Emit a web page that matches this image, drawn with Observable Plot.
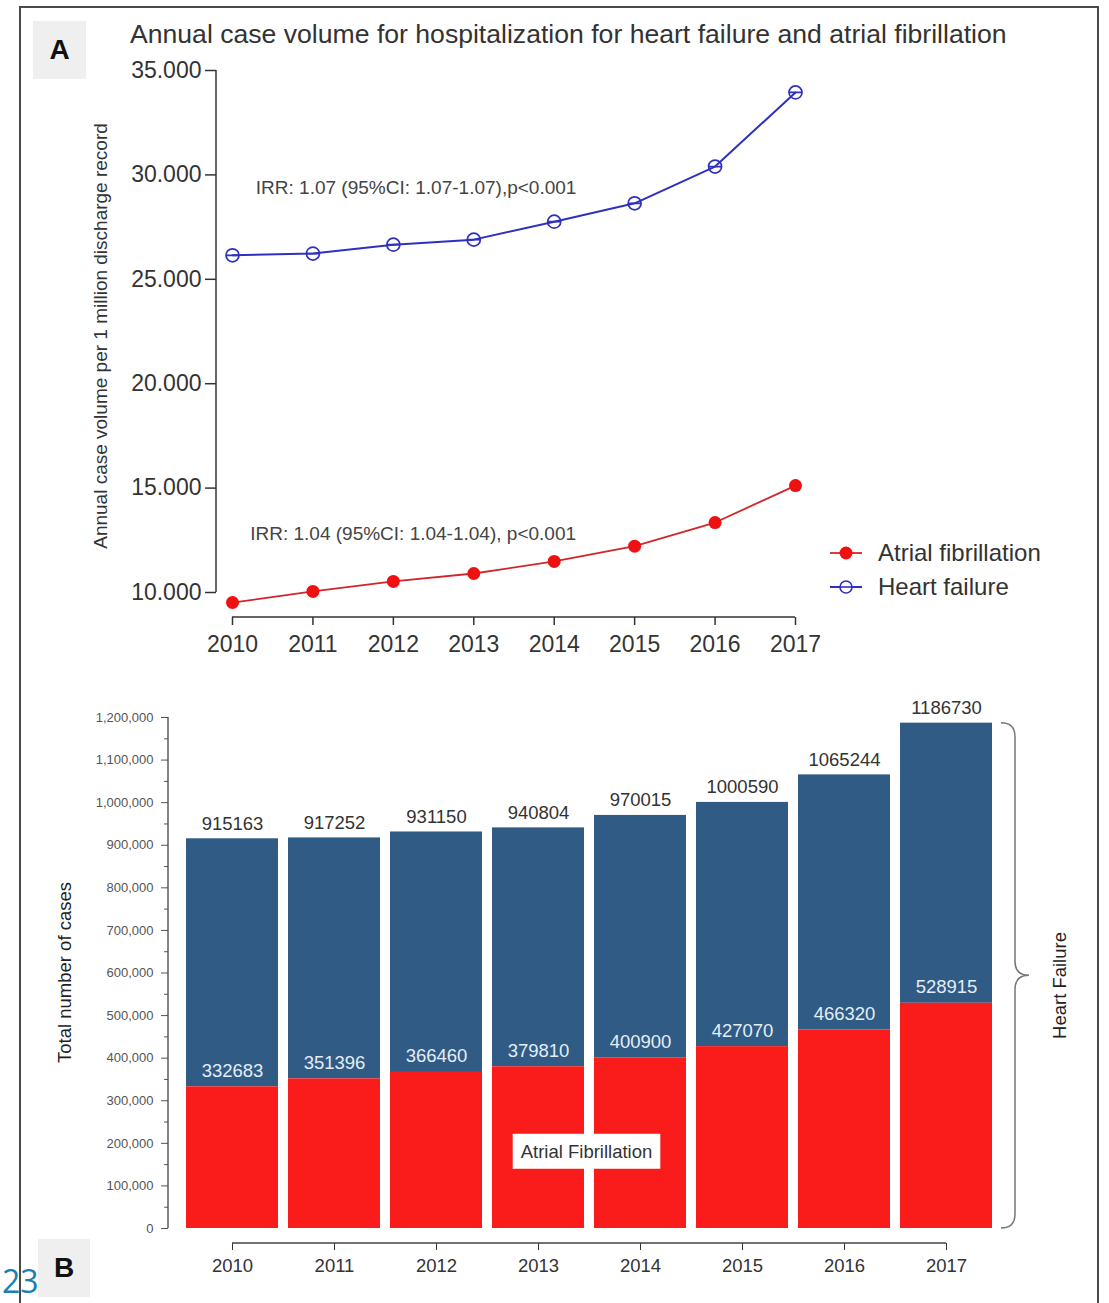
<!DOCTYPE html>
<html><head><meta charset="utf-8">
<script src="https://cdn.jsdelivr.net/npm/d3@7"></script>
<script src="https://cdn.jsdelivr.net/npm/@observablehq/plot@0.6"></script>
<style>
body{margin:0;background:#fff;font-family:"Liberation Sans",Arial,sans-serif;}
#page{position:relative;width:1109px;height:1303px;overflow:hidden;background:#fff;}
#page svg{position:absolute;left:0;}
.panel{position:absolute;background:#efefef;font-weight:bold;font-size:28px;color:#111;display:flex;align-items:center;justify-content:center;z-index:3;}
#border{position:absolute;left:19px;top:6px;width:1076px;height:1320px;border:2.5px solid #4a4a4a;border-bottom:none;z-index:4;pointer-events:none;}
#titleA{position:absolute;left:130px;top:19px;font-size:26.6px;color:#333;white-space:nowrap;z-index:2;}
#legend{position:absolute;left:828px;top:536px;font-size:24px;color:#333;line-height:34px;z-index:2;}
#legend div{display:flex;align-items:center;height:34px;}
#legend svg{position:static;margin-right:14px;}
#pagenum{position:absolute;left:2px;top:1265px;font-size:32px;line-height:32px;color:#1b80b0;z-index:5;font-family:"Open Sans",sans-serif;}
</style></head><body><div id="page">
<div id="border"></div>
<div class="panel" style="left:33px;top:21px;width:53px;height:58px;">A</div>
<div class="panel" style="left:38px;top:1239px;width:52px;height:58px;">B</div>
<div id="pagenum">23</div>
<div id="titleA">Annual case volume for hospitalization for heart failure and atrial fibrillation</div>
<div id="legend">
  <div><svg width="36" height="20"><line x1="2" x2="34" y1="10" y2="10" stroke="#d0262a" stroke-width="1.8"/><circle cx="18" cy="10" r="6.5" fill="#ee1111"/></svg><span>Atrial fibrillation</span></div>
  <div><svg width="36" height="20"><line x1="2" x2="34" y1="10" y2="10" stroke="#3030c0" stroke-width="2"/><circle cx="18" cy="10" r="6" fill="#fff" stroke="#3030c0" stroke-width="1.6"/><line x1="12" x2="24" y1="10" y2="10" stroke="#3030c0" stroke-width="1.6"/></svg><span>Heart failure</span></div>
</div>
</div>
<script>
// ---------- data ----------
const years = [2010, 2011, 2012, 2013, 2014, 2015, 2016, 2017];
const hfRate = [26150, 26230, 26660, 26900, 27760, 28640, 30400, 33950];
const afRate = [9520, 10050, 10530, 10910, 11490, 12220, 13350, 15120];
const rateTicks = [10000, 15000, 20000, 25000, 30000, 35000];
const irrText = ["IRR: 1.07 (95%CI: 1.07-1.07),p<0.001", "IRR: 1.04 (95%CI: 1.04-1.04), p<0.001"];
const irrX = [2010.29, 2010.22];
const irrY = [29380, 12830];
const yLabelA = "Annual case volume per 1 million discharge record";

const totalCases = [915163, 917252, 931150, 940804, 970015, 1000590, 1065244, 1186730];
const afCases = [332683, 351396, 366460, 379810, 400900, 427070, 466320, 528915];
const caseTicks = [0, 100000, 200000, 300000, 400000, 500000, 600000, 700000, 800000, 900000, 1000000, 1100000, 1200000];
const caseMinorTicks = [50000, 150000, 250000, 350000, 450000, 550000, 650000, 750000, 850000, 950000, 1050000, 1150000];
const afBoxLabel = [{label: "Atrial Fibrillation", y: 180000}];
const yLabelB = "Total number of cases";
const braceLabel = "Heart Failure";

// ---------- styles ----------
const blue = "#3030c0", redLine = "#d0262a", redDot = "#ee1111";
const barBlue = "#305b84", barRed = "#fa1b1b";
const font = "Liberation Sans, Arial, sans-serif";
const page = document.getElementById("page");
const fmtDot = d3.formatLocale({decimal: ",", thousands: ".", grouping: [3], currency: ["", ""]}).format(",");

const circleMinus = {draw(ctx, size) {
  const r = Math.sqrt(size / Math.PI);
  ctx.moveTo(r, 0); ctx.arc(0, 0, r, 0, 2 * Math.PI);
  ctx.moveTo(-r, 0); ctx.lineTo(r, 0);
}};

// ---------- chart A ----------
const A = {width: 1109, height: 670, ml: 216, mr: 314, mt: 70, mb: 53, insL: 16, insB: 25};
const rateRows = years.map((y, i) => ({year: y, hf: hfRate[i], af: afRate[i]}));
const irrRows = irrText.map((t, i) => ({t, x: irrX[i], y: irrY[i]}));
const plotA = Plot.plot({
  width: A.width, height: A.height,
  marginLeft: A.ml, marginRight: A.mr, marginTop: A.mt, marginBottom: A.mb,
  style: {fontFamily: font, background: "transparent", overflow: "visible"},
  x: {domain: [2010, 2017], insetLeft: A.insL},
  y: {domain: [10000, 35000], insetBottom: A.insB},
  marks: [
    Plot.axisY({ticks: rateTicks, tickFormat: fmtDot, tickSize: 11, tickPadding: 4, fontSize: 23, color: "#333", strokeWidth: 1.5, label: null}),
    Plot.axisX({ticks: years, tickFormat: d => String(d), tickSize: 8, tickPadding: 10, fontSize: 23, color: "#333", strokeWidth: 1.5, label: null}),
    Plot.text([yLabelA], {frameAnchor: "left", textAnchor: "middle", rotate: -90, dx: -116, dy: -8, fontSize: 19, fill: "#333"}),
    Plot.line(rateRows, {x: "year", y: "hf", stroke: blue, strokeWidth: 2}),
    Plot.dot(rateRows, {x: "year", y: "hf", r: 6.5, symbol: circleMinus, stroke: blue, strokeWidth: 1.7, fill: "none"}),
    Plot.line(rateRows, {x: "year", y: "af", stroke: redLine, strokeWidth: 1.8}),
    Plot.dot(rateRows, {x: "year", y: "af", r: 6.5, fill: redDot}),
    Plot.text(irrRows, {x: "x", y: "y", text: "t", textAnchor: "start", fontSize: 19, fill: "#444"})
  ]
});
plotA.style.top = "0px";
page.appendChild(plotA);
{
  const xs = plotA.scale("x"), ys = plotA.scale("y");
  const g = d3.select(plotA).append("g").attr("stroke", "#333").attr("stroke-width", 1.5).attr("fill", "none");
  const yb = A.height - A.mb;
  g.append("line").attr("x1", A.ml).attr("x2", A.ml).attr("y1", ys.apply(10000)).attr("y2", ys.apply(35000));
  g.append("line").attr("x1", xs.apply(2010)).attr("x2", xs.apply(2017)).attr("y1", yb).attr("y2", yb);
}

// ---------- chart B ----------
const B = {top: 680, width: 1109, height: 620, ml: 168, mr: 105, mt: 37, mb: 57, insL: 6, insB: 15};
const caseRows = years.map((y, i) => ({year: y, total: totalCases[i], af: afCases[i]}));
const plotB = Plot.plot({
  width: B.width, height: B.height,
  marginLeft: B.ml, marginRight: B.mr, marginTop: B.mt, marginBottom: B.mb,
  style: {fontFamily: font, background: "transparent", overflow: "visible"},
  x: {type: "band", domain: years, padding: 0.1, insetLeft: B.insL},
  y: {domain: [0, 1200000], insetBottom: B.insB},
  marks: [
    Plot.barY(caseRows, {x: "year", y1: "af", y2: "total", fill: barBlue}),
    Plot.barY(caseRows, {x: "year", y1: 0, y2: "af", fill: barRed}),
    Plot.text(caseRows, {x: "year", y: "total", text: d => String(d.total), dy: -15, fontSize: 18.5, fill: "#333"}),
    Plot.text(caseRows, {x: "year", y: "af", text: d => String(d.af), dy: -16, fontSize: 18.5, fill: "#e4edf6"}),
    Plot.text(afBoxLabel, {y: "y", text: "label", frameAnchor: "middle", fontSize: 18.5, fill: "#333"}),
    Plot.axisY({ticks: caseTicks, tickFormat: d3.format(","), tickSize: 7, tickPadding: 8, fontSize: 13, color: "#555", label: null}),
    Plot.axisY({ticks: caseMinorTicks, tickFormat: () => "", tickSize: 4, color: "#555", label: null}),
    Plot.axisX({tickFormat: d => String(d), tickSize: 7, tickPadding: 8, fontSize: 18.5, color: "#333", label: null}),
    Plot.text([yLabelB], {frameAnchor: "left", textAnchor: "middle", rotate: -90, dx: -103, dy: -8, fontSize: 18.5, fill: "#222"}),
    Plot.text([braceLabel], {frameAnchor: "right", textAnchor: "middle", rotate: -90, dx: 56, dy: 5, fontSize: 18.5, fill: "#222"})
  ]
});
plotB.style.top = B.top + "px";
page.appendChild(plotB);
{
  const xs = plotB.scale("x"), ys = plotB.scale("y");
  const bw = xs.bandwidth;
  const svg = d3.select(plotB);
  const g = svg.append("g").attr("stroke", "#444").attr("stroke-width", 1.3).attr("fill", "none");
  const yb = B.height - B.mb;
  g.append("line").attr("x1", B.ml).attr("x2", B.ml).attr("y1", ys.apply(0)).attr("y2", ys.apply(1200000));
  g.append("line").attr("x1", xs.apply(years[0]) + bw / 2).attr("x2", xs.apply(years[years.length - 1]) + bw / 2).attr("y1", yb).attr("y2", yb);
  // brace spanning the 2017 bar
  const last = years.length - 1;
  const yTop = ys.apply(totalCases[last]), yBot = ys.apply(0), yMid = (yTop + yBot) / 2;
  const x0 = xs.apply(years[last]) + bw + 9, x1 = x0 + 14, x2 = x1 + 14, r = 14;
  svg.append("path").attr("fill", "none").attr("stroke", "#777").attr("stroke-width", 1.5)
    .attr("d", `M${x0},${yTop} Q${x1},${yTop} ${x1},${yTop + r} L${x1},${yMid - r} Q${x1},${yMid} ${x2},${yMid} Q${x1},${yMid} ${x1},${yMid + r} L${x1},${yBot - r} Q${x1},${yBot} ${x0},${yBot}`);
  // white box behind "Atrial Fibrillation"
  svg.selectAll("text").filter(function() { return this.textContent === afBoxLabel[0].label; }).each(function() {
    const bb = this.getBBox();
    const padX = 8, padY = 7;
    d3.select(this.parentNode).insert("rect", () => this)
      .attr("transform", this.getAttribute("transform"))
      .attr("x", bb.x - padX).attr("y", bb.y - padY)
      .attr("width", bb.width + 2 * padX).attr("height", bb.height + 2 * padY)
      .attr("fill", "#fff");
  });
}
</script>
</body></html>
